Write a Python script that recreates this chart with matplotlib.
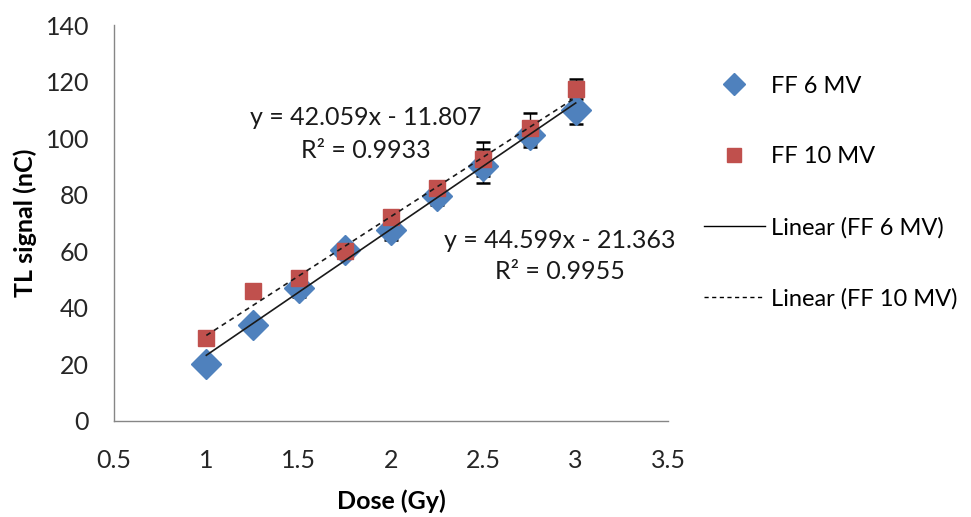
import matplotlib
matplotlib.use("Agg")
import matplotlib.pyplot as plt
from matplotlib.lines import Line2D
import numpy as np

plt.rcParams['font.family'] = ['Lato', 'DejaVu Sans']

dose = [1.0, 1.25, 1.5, 1.75, 2.0, 2.25, 2.5, 2.75, 3.0]
ff6 = [20, 34, 47, 60.5, 67.5, 79.5, 90, 101, 110]
ff6_err = [1, 1.5, 3, 2, 3.5, 3, 6, 4, 5]
ff10 = [29.5, 46, 50.5, 60, 72, 82.5, 92.5, 103.5, 117.5]
ff10_err = [1, 1, 1.5, 2, 2.5, 2, 6, 5.5, 3.5]

fit6 = (44.599, -21.363)
fit10 = (42.059, -11.807)
eq6 = "y = 44.599x - 21.363\nR² = 0.9955"
eq10 = "y = 42.059x - 11.807\nR² = 0.9933"

xticks = [0.5, 1, 1.5, 2, 2.5, 3, 3.5]
yticks = [0, 20, 40, 60, 80, 100, 120, 140]

blue = '#4F81BD'
red = '#C0504D'
FS = 18

fig = plt.figure(figsize=(9.71, 5.17), dpi=100)
ax = fig.add_axes([0.1174, 0.1857, 0.5706, 0.7659])

# trendlines
xf = np.array([dose[0], dose[-1]])
ax.plot(xf, fit6[0] * xf + fit6[1], color='#1a1a1a', lw=1.2, zorder=4)
ax.plot(xf, fit10[0] * xf + fit10[1], color='#1a1a1a', lw=1.2, ls=(0, (3, 2.5)), zorder=4)

ax.errorbar(dose, ff6, yerr=ff6_err, fmt='none', ecolor='black', elinewidth=1,
            capsize=5, capthick=1.8, zorder=2)
ax.errorbar(dose, ff10, yerr=ff10_err, fmt='none', ecolor='black', elinewidth=1,
            capsize=5, capthick=1.8, zorder=2)
ax.plot(dose, ff6, 'D', color=blue, ms=15, mec=blue, ls='none', zorder=3)
ax.plot(dose, ff10, 's', color=red, ms=12, mec=red, ls='none', zorder=3.5)

ax.set_xlim(0.5, 3.5)
ax.set_ylim(0, 140)
ax.set_xticks(xticks)
ax.set_xticklabels([f"{v:g}" for v in xticks])
ax.set_yticks(yticks)
ax.tick_params(length=0, labelsize=FS, colors='#262626')
ax.tick_params(axis='y', pad=18)
ax.tick_params(axis='x', pad=20)
for s in ['top', 'right']:
    ax.spines[s].set_visible(False)
for s in ['left', 'bottom']:
    ax.spines[s].set_color('#868686')
    ax.spines[s].set_linewidth(1)

ax.set_xlabel('Dose (Gy)', fontsize=FS, fontweight='bold', labelpad=13)
ax.set_ylabel('TL signal (nC)', fontsize=FS, fontweight='bold', labelpad=6)

ax.text(1.864, 101.5, eq10, fontsize=FS, ha='center', va='center', linespacing=1.55, color='#1a1a1a')
ax.text(2.915, 58.3, eq6, fontsize=FS, ha='center', va='center', linespacing=1.45, color='#1a1a1a')

handles = [
    Line2D([], [], marker='D', color=blue, ls='none', ms=11),
    Line2D([], [], marker='s', color=red, ls='none', ms=10),
    Line2D([], [], color='black', lw=1),
    Line2D([], [], color='black', lw=1, ls=(0, (3, 2.5))),
]
labels = ['FF 6 MV', 'FF 10 MV', 'Linear (FF 6 MV)', 'Linear (FF 10 MV)']
fig.legend(handles, labels, loc='upper left', bbox_to_anchor=(0.715, 0.872),
           frameon=False, fontsize=17, labelspacing=2.1, handlelength=2.6,
           handletextpad=0.25, borderaxespad=0)

fig.savefig('out.png', dpi=100)
